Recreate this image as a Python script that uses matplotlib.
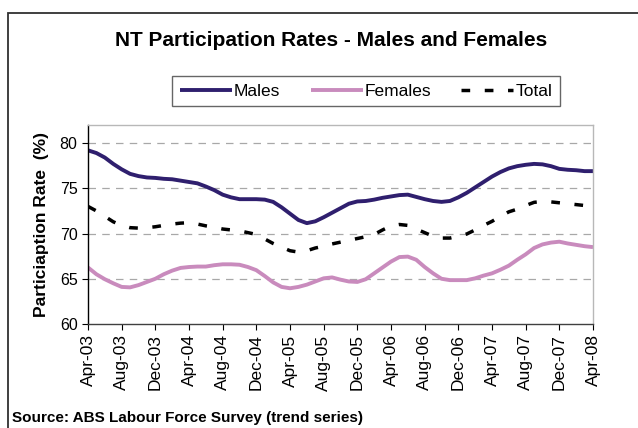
import matplotlib
matplotlib.use("Agg")
import matplotlib.pyplot as plt
from matplotlib.patches import Rectangle
import numpy as np

plt.rcParams['font.family'] = ['Liberation Sans', 'DejaVu Sans']

# monthly trend series, Apr-03 .. Apr-08
males = [79.2, 78.9, 78.4, 77.7, 77.1, 76.6, 76.35, 76.2, 76.15, 76.05,
         76.0, 75.85, 75.7, 75.55, 75.2, 74.8, 74.3, 74.0, 73.8, 73.8,
         73.8, 73.75, 73.5, 72.9, 72.2, 71.5, 71.15, 71.35, 71.8, 72.3,
         72.8, 73.3, 73.55, 73.6, 73.75, 73.95, 74.1, 74.25, 74.3, 74.05,
         73.8, 73.6, 73.5, 73.6, 74.0, 74.5, 75.1, 75.7, 76.3, 76.8,
         77.2, 77.45, 77.6, 77.7, 77.65, 77.45, 77.15, 77.05, 77.0, 76.9,
         76.9]
females = [66.25, 65.5, 64.95, 64.5, 64.1, 64.05, 64.3, 64.65, 65.0, 65.5,
           65.9, 66.2, 66.3, 66.35, 66.35, 66.5, 66.6, 66.6, 66.55, 66.3,
           65.95, 65.3, 64.6, 64.1, 63.95, 64.1, 64.35, 64.7, 65.05, 65.15,
           64.9, 64.7, 64.65, 64.95, 65.6, 66.25, 66.9, 67.4, 67.45, 67.1,
           66.3, 65.6, 65.0, 64.85, 64.85, 64.85, 65.05, 65.35, 65.6, 66.0,
           66.45, 67.1, 67.7, 68.4, 68.8, 69.0, 69.1, 68.9, 68.75, 68.6,
           68.5]
total = [73.0, 72.5, 71.9, 71.3, 70.9, 70.65, 70.6, 70.65, 70.75, 70.9,
         71.05, 71.15, 71.2, 71.05, 70.85, 70.7, 70.5, 70.4, 70.3, 70.1,
         69.9, 69.4, 68.9, 68.5, 68.1, 67.95, 68.1, 68.4, 68.6, 68.85,
         69.05, 69.25, 69.45, 69.65, 69.9, 70.4, 70.85, 71.0, 70.9, 70.5,
         70.1, 69.7, 69.5, 69.5, 69.7, 69.95, 70.4, 70.9, 71.35, 71.9,
         72.4, 72.7, 73.1, 73.45, 73.55, 73.5, 73.4, 73.3, 73.2, 73.1,
         73.0]
tick_labels = ['Apr-03', 'Aug-03', 'Dec-03', 'Apr-04', 'Aug-04', 'Dec-04',
               'Apr-05', 'Aug-05', 'Dec-05', 'Apr-06', 'Aug-06', 'Dec-06',
               'Apr-07', 'Aug-07', 'Dec-07', 'Apr-08']

months = np.arange(len(males))

fig = plt.figure(figsize=(6.38, 4.28), dpi=100)
ax = fig.add_axes([88/638, 1 - 324/428, (593-88)/638, (324-125)/428])

ax.plot(months, males, color='#2f1f6e', lw=2.8, label='Males', solid_capstyle='butt')
ax.plot(months, females, color='#c98bbd', lw=2.8, label='Females', solid_capstyle='butt')
ax.plot(months, total, color='black', lw=2.5, dashes=(2.5, 4.2), label='Total')

ax.set_xlim(0, len(males) - 1)
ax.set_ylim(60, 82)
ax.set_yticks([60, 65, 70, 75, 80])
ax.set_xticks(np.arange(0, len(males), 4))
ax.set_xticklabels(tick_labels, rotation=90)
ax.tick_params(axis='both', direction='out', length=4.5, width=0.8)
ax.tick_params(axis='y', labelsize=11.5, pad=3)
ax.tick_params(axis='x', labelsize=12.5, pad=3)
for y in [65, 70, 75, 80]:
    ax.axhline(y, color='#a8a8a8', lw=0.9, dashes=(6, 5), zorder=0)

ax.spines['left'].set_color('black')
ax.spines['bottom'].set_color('#404040')
ax.spines['top'].set_color('#b8b8b8')
ax.spines['right'].set_color('#b8b8b8')
for s in ax.spines.values():
    s.set_linewidth(1.0)

ax.set_ylabel('Particiaption Rate  (%)', fontsize=12.5, fontweight='bold', labelpad=8)

fig.text(331/638, 1 - 41/428, 'NT Participation Rates - Males and Females',
         ha='center', va='center', fontsize=15, fontweight='bold')

leg = fig.legend(loc='center', bbox_to_anchor=(366/638, 1 - 91/428), ncol=3,
                 fontsize=12.5, frameon=True, fancybox=False, handlelength=3.0,
                 handletextpad=0.1, columnspacing=1.75, borderpad=0.45)
leg.get_frame().set_edgecolor('#404040')
leg.get_frame().set_linewidth(1.0)

fig.text(12/638, 1 - 418/428, 'Source: ABS Labour Force Survey (trend series)',
         ha='left', va='center', fontsize=11, fontweight='bold')

fig.patches.append(Rectangle((8/638, -0.1), 1.2, 1 - 13/428 + 0.1,
                             transform=fig.transFigure, fill=False,
                             edgecolor='#303030', lw=1.3))

fig.savefig('out.png', dpi=100)
